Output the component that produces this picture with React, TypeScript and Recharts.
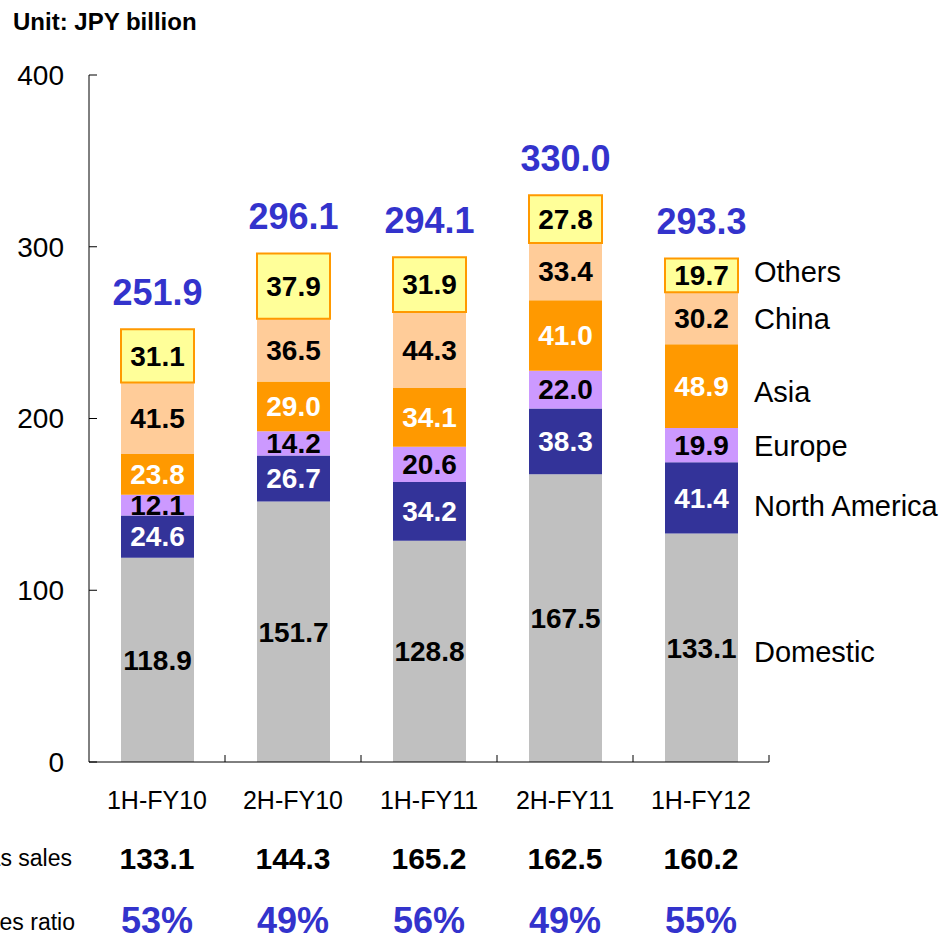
import React from 'react';
import { BarChart, Bar, XAxis, YAxis, LabelList } from 'recharts';

const categories = ['1H-FY10', '2H-FY10', '1H-FY11', '2H-FY11', '1H-FY12'];
const domestic = [118.9, 151.7, 128.8, 167.5, 133.1];
const northAmerica = [24.6, 26.7, 34.2, 38.3, 41.4];
const europe = [12.1, 14.2, 20.6, 22.0, 19.9];
const asia = [23.8, 29.0, 34.1, 41.0, 48.9];
const china = [41.5, 36.5, 44.3, 33.4, 30.2];
const others = [31.1, 37.9, 31.9, 27.8, 19.7];
const totals = ['251.9', '296.1', '294.1', '330.0', '293.3'];
const overseasSales = ['133.1', '144.3', '165.2', '162.5', '160.2'];
const overseasRatio = ['53%', '49%', '56%', '49%', '55%'];
const yTicks = [0, 100, 200, 300, 400];

const FONT = '"Liberation Sans", Arial, sans-serif';
const BLUE = '#3333CC';

const data = categories.map((c, i) => ({
  name: c,
  Domestic: domestic[i],
  'North America': northAmerica[i],
  Europe: europe[i],
  Asia: asia[i],
  China: china[i],
  Others: others[i],
  total: totals[i],
}));

const series = [
  { key: 'Domestic', fill: '#C0C0C0', text: '#000000', nameDy: 4 },
  { key: 'North America', fill: '#333399', text: '#FFFFFF', nameDy: 8 },
  { key: 'Europe', fill: '#CC99FF', text: '#000000', nameDy: 1 },
  { key: 'Asia', fill: '#FF9900', text: '#FFFFFF', nameDy: 6 },
  { key: 'China', fill: '#FFCC99', text: '#000000', nameDy: 1 },
  { key: 'Others', fill: '#FFFF99', text: '#000000', nameDy: -3 },
];

const W = 943;
const H = 938;
const M = { top: 75, right: 174, left: 0, bottom: 0 };
const Y_W = 89;
const X_H = 176;
const BAND = (W - M.left - M.right - Y_W) / categories.length;

const XTick = (props: any) => {
  const { x, y, payload, index } = props;
  const half = BAND / 2;
  return (
    <g>
      <line x1={x + half} x2={x + half} y1={y} y2={y - 7} stroke="#000" strokeWidth={1} />
      <text x={x} y={y + 38} dy="0.35em" textAnchor="middle" fontFamily={FONT} fontSize={25} fill="#000">
        {payload.value}
      </text>
      <text x={x} y={y + 96} dy="0.35em" textAnchor="middle" fontFamily={FONT} fontSize={30} fontWeight="bold" fill="#000">
        {overseasSales[index]}
      </text>
      <text x={x} y={y + 158} dy="0.35em" textAnchor="middle" fontFamily={FONT} fontSize={36} fontWeight="bold" fill={BLUE}>
        {overseasRatio[index]}
      </text>
      {index === 0 && (
        <>
          <text x={72} y={y + 96} dy="0.35em" textAnchor="end" fontFamily={FONT} fontSize={23} fill="#000">
            Overseas sales
          </text>
          <text x={75} y={y + 160} dy="0.35em" textAnchor="end" fontFamily={FONT} fontSize={23} fill="#000">
            Overseas sales ratio
          </text>
        </>
      )}
    </g>
  );
};

const YTick = (props: any) => {
  const { x, y, payload } = props;
  return (
    <g>
      <line x1={x} x2={x + 8} y1={y} y2={y} stroke="#000" strokeWidth={1} />
      <text x={x - 25} y={y} dy="0.35em" textAnchor="end" fontFamily={FONT} fontSize={28} fill="#000">
        {payload.value}
      </text>
    </g>
  );
};

const makeValueLabel = (color: string, name: string, nameDy: number) => (props: any) => {
  const { x, y, width, height, value, index } = props;
  const cx = x + width / 2;
  const cy = y + height / 2;
  return (
    <g>
      <text x={cx} y={cy} dy="0.35em" textAnchor="middle" fontFamily={FONT} fontSize={28} fontWeight="bold" fill={color}>
        {Number(value).toFixed(1)}
      </text>
      {index === categories.length - 1 && (
        <text x={x + width + 16} y={cy + nameDy} dy="0.35em" textAnchor="start" fontFamily={FONT} fontSize={29} fill="#000">
          {name}
        </text>
      )}
    </g>
  );
};

const TotalLabel = (props: any) => {
  const { x, y, width, index } = props;
  return (
    <text x={x + width / 2} y={y - 37} dy="0.35em" textAnchor="middle" fontFamily={FONT} fontSize={36} fontWeight="bold" fill={BLUE}>
      {totals[index]}
    </text>
  );
};

export default function App() {
  return (
    <div style={{ position: 'absolute', left: 0, top: 0, width: W, height: H, background: '#fff' }}>
      <div
        style={{
          position: 'absolute',
          left: 13,
          top: 8,
          fontFamily: FONT,
          fontWeight: 'bold',
          fontSize: 24,
          lineHeight: '28px',
          color: '#000',
          whiteSpace: 'nowrap',
        }}
      >
        Unit: JPY billion
      </div>
      <BarChart width={W} height={H} data={data} margin={M} barSize={73}>
        <XAxis
          dataKey="name"
          height={X_H}
          tickSize={0}
          tickMargin={0}
          tick={<XTick />}
          axisLine={{ stroke: '#000', strokeWidth: 1 }}
          tickLine={false}
          interval={0}
        />
        <YAxis
          width={Y_W}
          domain={[0, 400]}
          ticks={yTicks}
          tickSize={0}
          tickMargin={0}
          tick={<YTick />}
          axisLine={{ stroke: '#000', strokeWidth: 1 }}
          tickLine={false}
          interval={0}
        />
        {series.map((s) => (
          <Bar
            key={s.key}
            dataKey={s.key}
            stackId="a"
            fill={s.fill}
            stroke={s.key === 'Others' ? '#FF9900' : 'none'}
            strokeWidth={s.key === 'Others' ? 2 : 0}
            isAnimationActive={false}
          >
            <LabelList dataKey={s.key} content={makeValueLabel(s.text, s.key, s.nameDy)} />
            {s.key === 'Others' && <LabelList dataKey="total" content={<TotalLabel />} />}
          </Bar>
        ))}
      </BarChart>
    </div>
  );
}
